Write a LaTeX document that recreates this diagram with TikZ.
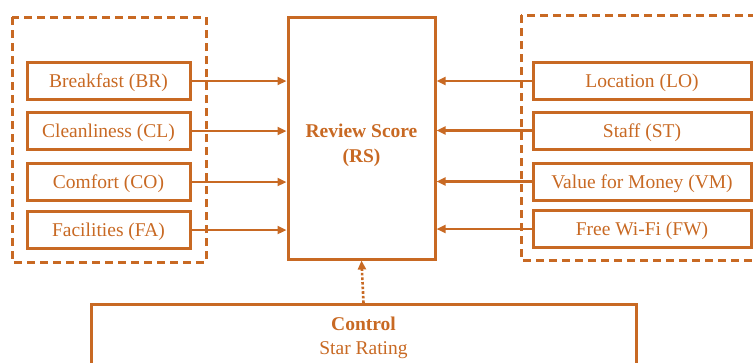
\documentclass[tikz,border=0pt]{standalone}
\usepackage{fontspec}
\setmainfont{Liberation Serif}
\usetikzlibrary{arrows.meta}
\definecolor{oc}{RGB}{200,105,35}
\begin{document}
\begin{tikzpicture}[x=1pt,y=-1pt,
  box/.style={draw=oc,line width=3pt,text=oc,inner sep=0pt,text height=15pt,text depth=2pt,font=\fontsize{19.5}{25}\selectfont},
  dbox/.style={draw=oc,line width=3pt,dash pattern=on 8pt off 5pt},
  arr/.style={draw=oc,line width=2.6pt,-{Triangle[length=9pt,width=8pt]}},
  darr/.style={draw=oc,line width=2.6pt,dotted,-{Triangle[length=9pt,width=8pt]}}]
\useasboundingbox (0,0) rectangle (753,362);
\clip (0,0) rectangle (753,362);
% dashed groups
\draw[dbox] (12,17) rectangle (206,262);
\draw[dbox] (521,15) rectangle (790,260);
% left boxes
\node[box,minimum width=163pt,minimum height=37pt] (br) at (108.5,81) {Breakfast (BR)};
\node[box,minimum width=163pt,minimum height=37pt] (cl) at (108.5,131) {Cleanliness (CL)};
\node[box,minimum width=163pt,minimum height=37pt] (co) at (108.5,182) {Comfort (CO)};
\node[box,minimum width=163pt,minimum height=37pt] (fa) at (108.5,230) {Facilities (FA)};
% right boxes
\node[box,minimum width=218pt,minimum height=37pt] (lo) at (642,81) {Location (LO)};
\node[box,minimum width=218pt,minimum height=37pt] (st) at (642,130.5) {Staff (ST)};
\node[box,minimum width=218pt,minimum height=37pt] (vm) at (642,181.5) {Value for Money (VM)};
\node[box,minimum width=218pt,minimum height=37pt] (fw) at (642,229) {Free Wi-Fi (FW)};
% review score
\node[box,minimum width=147pt,minimum height=242pt] (rs) at (361.5,138) {};
\node[text=oc,font=\fontsize{19.5}{25}\selectfont\bfseries,align=center] (rst) at (361.5,145) {Review Score\\(RS)};
% control
\node[box,anchor=north,minimum width=545pt,minimum height=120pt] (ctrl) at (363.5,303) {};
\node[text=oc,font=\fontsize{19.5}{24}\selectfont,align=center] (ctrlt) at (363.5,338) {\textbf{Control}\\Star Rating};
% arrows
\draw[arr] (br.east) -- (br.east -| rs.west);
\draw[arr] (cl.east) -- (cl.east -| rs.west);
\draw[arr] (co.east) -- (co.east -| rs.west);
\draw[arr] (fa.east) -- (fa.east -| rs.west);
\draw[arr] (lo.west) -- (lo.west -| rs.east);
\draw[arr] (st.west) -- (st.west -| rs.east);
\draw[arr] (vm.west) -- (vm.west -| rs.east);
\draw[arr] (fw.west) -- (fw.west -| rs.east);
\draw[darr] (ctrl.north) -- (rs.south);
\end{tikzpicture}
\end{document}
